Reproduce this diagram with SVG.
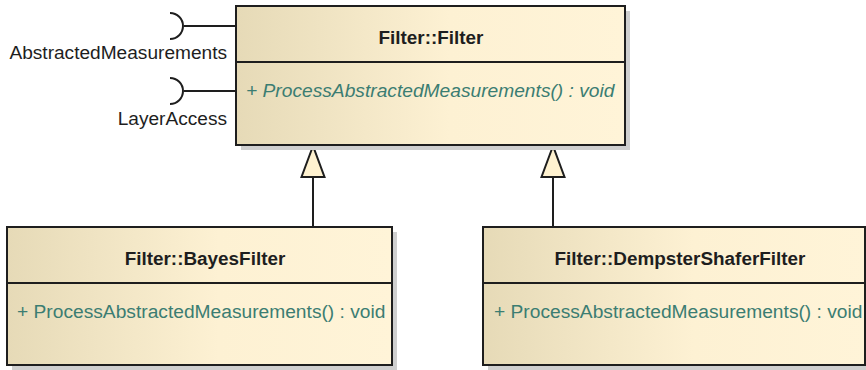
<svg xmlns="http://www.w3.org/2000/svg" width="866" height="370" viewBox="0 0 866 370">
<defs>
<linearGradient id="g" x1="0" y1="0" x2="1" y2="0">
<stop offset="0" stop-color="#e6dab7"/>
<stop offset="0.55" stop-color="#fdf1d3"/>
<stop offset="1" stop-color="#fff4d8"/>
</linearGradient>
<style>
.box{fill:url(#g);stroke:#1e1e1e;stroke-width:2}
.sh{fill:#cfcfcf}
.div{stroke:#1e1e1e;stroke-width:2}
.title{font-family:"Liberation Sans",Arial,sans-serif;font-size:18.9px;font-weight:bold;fill:#1e1e1e;text-anchor:middle}
.op{font-family:"Liberation Sans",Arial,sans-serif;font-size:19.2px;fill:#3b7d72}
.it{font-style:italic}
.lbl{font-family:"Liberation Sans",Arial,sans-serif;font-size:19.1px;fill:#1e1e1e;text-anchor:end}
.ln{fill:none;stroke:#1e1e1e;stroke-width:2}
.tri{fill:#fff2d0;stroke:#1e1e1e;stroke-width:2}
</style>
</defs>
<rect width="866" height="370" fill="#ffffff"/>
<g id="connectors">
<line class="ln" x1="313" y1="177" x2="313" y2="227"/>
<polygon class="tri" points="313,146 301.5,177 324.5,177"/>
<line class="ln" x1="553" y1="177" x2="553" y2="227"/>
<polygon class="tri" points="553,146 541.5,177 564.5,177"/>
<line class="ln" x1="184" y1="26" x2="236" y2="26"/>
<path class="ln" d="M170,13 A13,13 0 0 1 170,39"/>
<line class="ln" x1="184" y1="91" x2="236" y2="91"/>
<path class="ln" d="M170,78 A13,13 0 0 1 170,104"/>
</g>
<g id="iface-AbstractedMeasurements">
<text class="lbl" x="227" y="59">AbstractedMeasurements</text>
</g>
<g id="iface-LayerAccess">
<text class="lbl" x="227" y="125">LayerAccess</text>
</g>
<g id="Filter">
<rect class="sh" x="241" y="11" width="389" height="139"/>
<rect class="box" x="236" y="6" width="389" height="139"/>
<line class="div" x1="236" y1="62" x2="625" y2="62"/>
<text class="title" x="431" y="44">Filter::Filter</text>
<text class="op it" x="246" y="97">+ ProcessAbstractedMeasurements() : void</text>
</g>
<g id="BayesFilter">
<rect class="sh" x="12" y="232" width="385" height="138"/>
<rect class="box" x="7" y="227" width="385" height="138"/>
<line class="div" x1="7" y1="283" x2="392" y2="283"/>
<text class="title" x="205" y="265">Filter::BayesFilter</text>
<text class="op" x="17" y="318">+ ProcessAbstractedMeasurements() : void</text>
</g>
<g id="DempsterShaferFilter">
<rect class="sh" x="488" y="232" width="385" height="138"/>
<rect class="box" x="483" y="227" width="382" height="138"/>
<line class="div" x1="483" y1="283" x2="865" y2="283"/>
<text class="title" x="680" y="265">Filter::DempsterShaferFilter</text>
<text class="op" x="494" y="318">+ ProcessAbstractedMeasurements() : void</text>
</g>
</svg>
